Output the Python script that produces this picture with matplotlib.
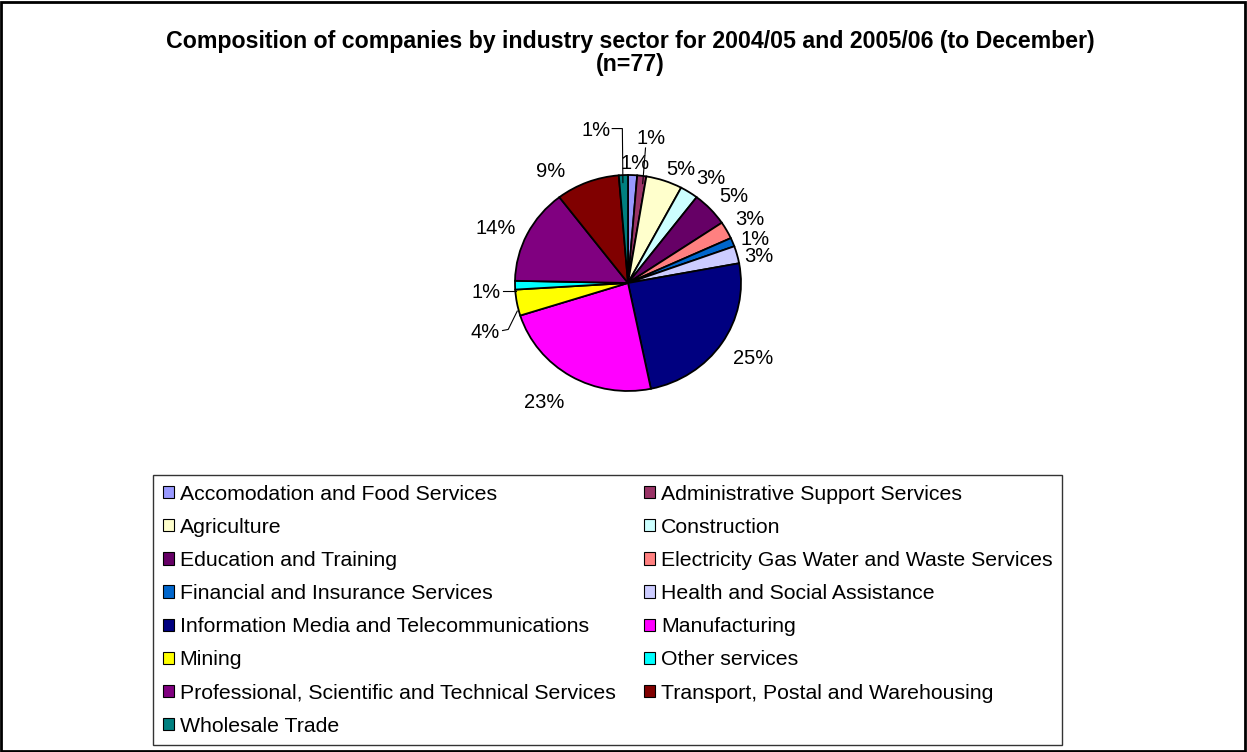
import matplotlib
matplotlib.use("Agg")
import matplotlib.pyplot as plt
from matplotlib.patches import Patch, Rectangle
import numpy as np

plt.rcParams['font.family'] = ['Liberation Sans', 'DejaVu Sans']

# Number of companies in each industry sector (n = 77)
sectors = [
    "Accomodation and Food Services",
    "Administrative Support Services",
    "Agriculture",
    "Construction",
    "Education and Training",
    "Electricity Gas Water and Waste Services",
    "Financial and Insurance Services",
    "Health and Social Assistance",
    "Information Media and Telecommunications",
    "Manufacturing",
    "Mining",
    "Other services",
    "Professional, Scientific and Technical Services",
    "Transport, Postal and Warehousing",
    "Wholesale Trade",
]
counts = [1, 1, 4, 2, 4, 2, 1, 2, 19, 18, 3, 1, 11, 7, 1]
colors = ["#9999FF", "#993366", "#FFFFCC", "#CCFFFF", "#660066", "#FF8080",
          "#0066CC", "#CCCCFF", "#000080", "#FF00FF", "#FFFF00", "#00FFFF",
          "#800080", "#800000", "#008080"]

title = ("Composition of companies by industry sector for 2004/05 and 2005/06 (to December)\n"
         "(n=77)")

W, H = 1247, 752
fig = plt.figure(figsize=(W / 100, H / 100), dpi=100)

# outer frame of the chart area
fig.patches.append(Rectangle((0.001, 0.001), 0.997, 0.996, transform=fig.transFigure,
                             fill=False, edgecolor="black", linewidth=2))

fig.text(630 / W, 1 - 53 / H, title, ha="center", va="center", fontsize=16.7,
         fontweight="bold", linespacing=1.0)

# pie axes: bounding box of the (slightly elliptical) pie in pixels
cx, cy, rx, ry = 628, 283, 113, 108
ax = fig.add_axes([(cx - rx) / W, 1 - (cy + ry) / H, 2 * rx / W, 2 * ry / H])
wedges, _ = ax.pie(counts, colors=colors, startangle=90, counterclock=False,
                   wedgeprops=dict(edgecolor="black", linewidth=1.3))
ax.set_aspect("auto")
ax.set_xlim(-1, 1)
ax.set_ylim(-1, 1)
ax.axis("off")

total = sum(counts)
pcts = [f"{round(100 * c / total):d}%" for c in counts]

# per-slice label radius and angular nudge (degrees)
lab_r = [1.12, 1.0, 1.16, 1.23, 1.24, 1.24, 1.20, 1.19, 1.3, 1.32, 1.0, 1.0, 1.28, 1.25, 1.0]
lab_da = [-1, 0, -5, -4, -2, 0.0, -1.6, -2.6, 2, -4, 0, 0, 3, 12, 0]
# slices whose label sits away from the slice, with a leader line
leader = {
    1: dict(xy=(0.20, 1.35), path=[(0.155, 1.25), (0.13, 0.92)]),
    14: dict(xy=(-0.28, 1.43), path=[(-0.14, 1.43), (-0.05, 1.43), (-0.045, 0.93)]),
    11: dict(xy=(-1.26, -0.07), path=[(-1.11, -0.07), (-0.99, -0.07)]),
    10: dict(xy=(-1.26, -0.44), path=[(-1.11, -0.44), (-1.06, -0.43), (-0.98, -0.26)]),
}

for i, w in enumerate(wedges):
    if i in leader:
        x, y = leader[i]["xy"]
        px, py = zip(*leader[i]["path"])
        ax.plot(px, py, color="black", linewidth=0.8, clip_on=False)
    else:
        ang = np.deg2rad((w.theta1 + w.theta2) / 2 + lab_da[i])
        x, y = lab_r[i] * np.cos(ang), lab_r[i] * np.sin(ang)
    ax.text(x, y - 0.015, pcts[i], ha="center", va="center", fontsize=14.5,
            clip_on=False)

# legend: filled row by row in two columns
order = list(range(0, len(sectors), 2)) + list(range(1, len(sectors), 2))
handles = [Patch(facecolor=colors[i], edgecolor="black", linewidth=0.8) for i in order]
labels = [sectors[i] for i in order]
leg = fig.legend(handles, labels, ncol=2, loc="upper left", mode="expand",
                 bbox_to_anchor=(153 / W, 1 - 475 / H, 909 / W, 0), borderaxespad=0,
                 fontsize=15.35, frameon=True, fancybox=False, edgecolor="black",
                 handlelength=0.52, handleheight=0.52, handletextpad=0.28,
                 labelspacing=0.665, columnspacing=0.6, borderpad=0.45)
leg.get_frame().set_linewidth(1.0)

fig.savefig("out.png", dpi=100)
